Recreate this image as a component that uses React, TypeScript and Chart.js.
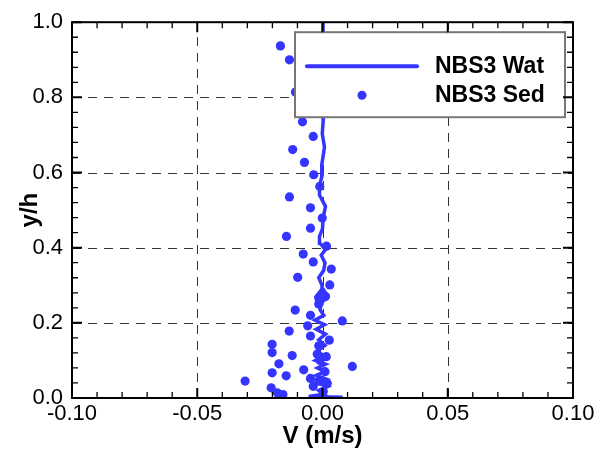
import React, { useEffect, useRef } from "react";
import { Chart, registerables } from "chart.js";

Chart.register(...registerables);

// ---- data ----
const seriesLabels = ["NBS3 Wat", "NBS3 Sed"];

const watV = [
  0.008, -0.0055, 0.0005, -0.0015, 0.002, -0.002, 0.0015, -0.0025, 0.001, -0.002,
  0.0012, -0.0028, 0.0005, -0.002, 0.001, -0.0015, 0.0012, -0.0025, 0.0008, -0.003,
  0.0005, -0.001, -0.0005, -0.0025, 0.0, 0.002, -0.0005, -0.0002, -0.0015, 0.0005,
  0.001, -0.0005, 0.0012, -0.001, -0.0012, 0.0, 0.0002, 0.0012, -0.0012, -0.0012,
  -0.0002, -0.0003, 0.0008, -0.0001, 0.0003, 0.0003, 0.0002, 0.0002,
];
const watY = [
  0.002, 0.004, 0.01, 0.02, 0.03, 0.04, 0.05, 0.06, 0.07, 0.08,
  0.09, 0.1, 0.112, 0.125, 0.14, 0.155, 0.17, 0.183, 0.195, 0.207,
  0.22, 0.235, 0.25, 0.27, 0.292, 0.272, 0.252, 0.3, 0.32, 0.34,
  0.36, 0.38, 0.395, 0.412, 0.43, 0.45, 0.478, 0.51, 0.54, 0.565,
  0.59, 0.62, 0.668, 0.703, 0.74, 0.8, 0.9, 1.0,
];

const sedV = [
  -0.0168, -0.0132, -0.0108, -0.008, -0.0037, -0.0119, -0.0072, -0.0035, -0.0011, -0.0132,
  -0.0048, -0.0001, -0.0048, -0.0144, 0.0016, -0.0077, -0.0037, 0.0035, -0.0099, 0.0029,
  -0.0015, 0.0012, -0.0015, -0.0109, -0.0048, 0.0079, -0.0059, -0.0133, -0.0048, 0.0027,
  -0.0201, -0.0201, -0.0121, -0.0015, -0.0174, 0.0119, -0.0075, -0.0201, -0.0145, -0.0048,
  -0.0309, -0.0037, -0.0205, -0.0181, -0.0158, 0.0003, 0.0019, 0.0003, -0.001, 0.001,
  -0.0015, 0.0015, -0.0021,
];
const sedY = [
  0.937, 0.9, 0.814, 0.735, 0.696, 0.661, 0.627, 0.594, 0.563, 0.535,
  0.506, 0.479, 0.452, 0.43, 0.404, 0.383, 0.362, 0.343, 0.321, 0.301,
  0.266, 0.27, 0.25, 0.234, 0.22, 0.205, 0.192, 0.178, 0.165, 0.154,
  0.143, 0.121, 0.113, 0.139, 0.091, 0.084, 0.075, 0.067, 0.059, 0.052,
  0.045, 0.031, 0.027, 0.014, 0.009, 0.017, 0.039, 0.0, 0.1, 0.07,
  0.045, 0.11, 0.117,
];

const xMin = -0.1, xMax = 0.1, xStep = 0.05, xMinor = 0.01;
const yMin = 0, yMax = 1, yStep = 0.2, yMinor = 0.04;
const xTitle = "V (m/s)";
const yTitle = "y/h";

const BLUE = "#3535ff";
const FONT = "'Liberation Sans', Arial, Helvetica, sans-serif";

const framePlugin = {
  id: "frameTicks",
  beforeDatasetsDraw(chart: any) {
    const { ctx, chartArea: a, scales } = chart;
    const xs = scales.x, ys = scales.y;
    ctx.save();
    ctx.strokeStyle = "#333";
    ctx.lineWidth = 1;
    ctx.setLineDash([9, 7]);
    xs.ticks.forEach((t: any) => {
      const px = Math.round(xs.getPixelForValue(t.value)) + 0.5;
      if (px <= a.left + 2 || px >= a.right - 2) return;
      ctx.beginPath();
      ctx.moveTo(px, a.bottom);
      ctx.lineTo(px, a.top);
      ctx.stroke();
    });
    ys.ticks.forEach((t: any) => {
      const py = Math.round(ys.getPixelForValue(t.value)) + 0.5;
      if (py <= a.top + 2 || py >= a.bottom - 2) return;
      ctx.beginPath();
      ctx.moveTo(a.left, py);
      ctx.lineTo(a.right, py);
      ctx.stroke();
    });
    ctx.restore();
  },
  afterDraw(chart: any) {
    const { ctx, chartArea: a, scales } = chart;
    const xs = scales.x, ys = scales.y;
    ctx.save();
    ctx.setLineDash([]);
    ctx.strokeStyle = "#000";
    // minor ticks
    ctx.lineWidth = 1.5;
    const nx = Math.round((xMax - xMin) / xMinor);
    for (let i = 0; i <= nx; i++) {
      const v = xMin + i * xMinor;
      const px = xs.getPixelForValue(v);
      const major = i % Math.round(xStep / xMinor) === 0;
      const len = major ? 10 : 6;
      ctx.lineWidth = major ? 2 : 1.3;
      ctx.beginPath();
      ctx.moveTo(px, a.bottom);
      ctx.lineTo(px, a.bottom - len);
      ctx.moveTo(px, a.top);
      ctx.lineTo(px, a.top + len);
      ctx.stroke();
    }
    const ny = Math.round((yMax - yMin) / yMinor);
    for (let i = 0; i <= ny; i++) {
      const v = yMin + i * yMinor;
      const py = ys.getPixelForValue(v);
      const major = Math.abs(v / yStep - Math.round(v / yStep)) < 1e-6;
      const len = major ? 10 : 6;
      ctx.lineWidth = major ? 2 : 1.3;
      ctx.beginPath();
      ctx.moveTo(a.left, py);
      ctx.lineTo(a.left + len, py);
      ctx.moveTo(a.right, py);
      ctx.lineTo(a.right - len, py);
      ctx.stroke();
    }
    ctx.lineWidth = 2;
    ctx.strokeRect(a.left, a.top, a.right - a.left, a.bottom - a.top);
    ctx.restore();
  },
};

const legendPlugin = {
  id: "boxLegend",
  afterDatasetsDraw(chart: any) {
    const { ctx, chartArea: a } = chart;
    const bx = a.left + 223, by = a.top + 10, bw = 270, bh = 85;
    ctx.save();
    ctx.fillStyle = "#fff";
    ctx.fillRect(bx, by, bw, bh);
    ctx.strokeStyle = "#777";
    ctx.lineWidth = 2;
    ctx.strokeRect(bx, by, bw, bh);
    const ds = chart.data.datasets;
    const row1 = by + 34, row2 = by + 63;
    // line sample
    ctx.strokeStyle = ds[0].borderColor;
    ctx.lineWidth = 4;
    ctx.lineCap = "round";
    ctx.beginPath();
    ctx.moveTo(bx + 12, row1);
    ctx.lineTo(bx + 122, row1);
    ctx.stroke();
    // point sample
    ctx.fillStyle = ds[1].backgroundColor;
    ctx.beginPath();
    ctx.arc(bx + 67, row2, 4.5, 0, Math.PI * 2);
    ctx.fill();
    ctx.fillStyle = "#000";
    ctx.font = `bold 23px ${FONT}`;
    ctx.textBaseline = "middle";
    ctx.textAlign = "left";
    ctx.fillText(ds[0].label, bx + 140, row1);
    ctx.fillText(ds[1].label, bx + 140, row2);
    ctx.restore();
  },
};

export default function App() {
  const ref = useRef<HTMLCanvasElement | null>(null);
  useEffect(() => {
    if (!ref.current) return;
    const chart = new Chart(ref.current, {
      type: "scatter",
      data: {
        datasets: [
          {
            type: "line",
            label: seriesLabels[0],
            data: watV.map((v, i) => ({ x: v, y: watY[i] })),
            borderColor: BLUE,
            backgroundColor: BLUE,
            borderWidth: 3.5,
            pointRadius: 0,
            tension: 0,
            showLine: true,
          } as any,
          {
            label: seriesLabels[1],
            data: sedV.map((v, i) => ({ x: v, y: sedY[i] })),
            borderColor: BLUE,
            backgroundColor: BLUE,
            pointRadius: 4.6,
            pointBorderWidth: 0,
            showLine: false,
          },
        ],
      },
      options: {
        animation: false,
        responsive: false,
        layout: { padding: { left: 0, right: 31, top: 17, bottom: 0 } },
        plugins: { legend: { display: false }, tooltip: { enabled: false } },
        scales: {
          x: {
            type: "linear",
            min: xMin,
            max: xMax,
            grid: { display: false, drawTicks: false },
            border: { display: false },
            ticks: {
              stepSize: xStep,
              autoSkip: false,
              maxRotation: 0,
              padding: 3,
              color: "#000",
              font: { family: FONT, size: 22 },
              callback: (v: any) => (Math.abs(v) < 1e-9 ? 0 : Number(v)).toFixed(2),
            },
            title: {
              display: true,
              text: xTitle,
              color: "#000",
              font: { family: FONT, size: 24, weight: "bold" },
              padding: { top: 0, bottom: 2 },
            },
            afterFit: (s: any) => {
              s.height = 55;
            },
          },
          y: {
            type: "linear",
            min: yMin,
            max: yMax,
            grid: { display: false, drawTicks: false },
            border: { display: false },
            ticks: {
              stepSize: yStep,
              autoSkip: false,
              padding: 9,
              color: "#000",
              font: { family: FONT, size: 22 },
              callback: (v: any) => Number(v).toFixed(1),
            },
            title: {
              display: true,
              text: yTitle,
              color: "#000",
              font: { family: FONT, size: 24, weight: "bold" },
              padding: { top: 16, bottom: 0 },
            },
            afterFit: (s: any) => {
              s.width = 72;
            },
          },
        },
      },
      plugins: [framePlugin, legendPlugin],
    });
    return () => chart.destroy();
  }, []);
  return (
    <div style={{ position: "absolute", left: 0, top: 0, width: 604, height: 453, background: "#fff" }}>
      <canvas ref={ref} width={604} height={453} />
    </div>
  );
}
